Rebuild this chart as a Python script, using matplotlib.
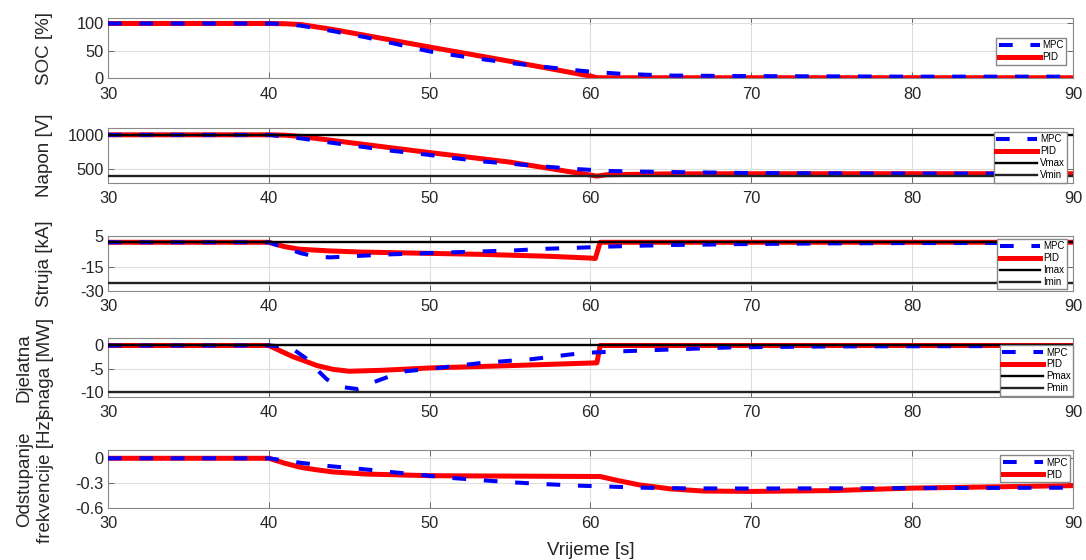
import matplotlib
matplotlib.use("Agg")
import matplotlib.pyplot as plt

plt.rcParams['font.family'] = ['Liberation Sans', 'DejaVu Sans']

# ---------------- data ----------------
# SOC [%]
t_soc_mpc = [30, 40, 41, 42, 44, 46, 48, 50, 52, 55, 58, 60, 62, 65, 70, 80, 90]
soc_mpc = [100, 100, 99, 96, 86, 75, 62, 49, 40, 28, 18, 12, 8, 5, 4, 3, 3]
t_soc_pid = [30, 40, 41, 42, 44, 50, 55, 60, 60.4, 65, 90]
soc_pid = [100, 100, 99.5, 98, 89, 57, 31, 4, 1, 1, 1]

# Napon [V]
t_v_mpc = [30, 40, 41.9, 43.8, 45.7, 47.7, 49.6, 51.6, 53.4, 55.4, 57.4, 59.3, 61.2, 63, 66, 70, 80, 90]
v_mpc = [1000, 1000, 951, 887, 828, 765, 716, 657, 608, 569, 530, 496, 470, 461, 451, 440, 432, 430]
t_v_pid = [30, 40, 41, 42, 50, 55, 60.4, 61, 65, 70, 90]
v_pid = [1000, 1000, 995, 975, 740, 600, 395, 415, 428, 430, 430]
v_max = 1000
v_min = 400

# Struja [kA]
t_i_mpc = [30, 40, 41, 42, 43, 43.8, 45.7, 47.5, 49.5, 51.4, 53.3, 55.4, 57, 58.9, 60.9, 63, 65.1, 67, 68.8, 75, 80, 90]
i_mpc = [1, 1, -2.5, -6, -8.2, -8.6, -7.6, -6.7, -6.0, -5.4, -4.8, -4.1, -3.2, -2.6, -1.8, -1.2, -0.7, -0.5, -0.2, 0.3, 0.5, 0.6]
t_i_pid = [30, 40, 40.5, 41, 41.9, 43.8, 45.7, 49.2, 53.3, 57.4, 59.9, 60.3, 60.6, 90]
i_pid = [1, 1, -0.5, -1.8, -3.4, -4.5, -5.2, -5.9, -6.7, -7.9, -9.0, -9.3, 1, 1]
i_max = 1
i_min = -25

# Djelatna snaga [MW]
t_p_mpc = [30, 40, 41.3, 42.3, 43, 43.6, 44.4, 45.5, 46.7, 47.9, 48.5, 50, 53.3, 56.4, 59.5, 61.5, 64.6, 68.8, 75, 90]
p_mpc = [0, 0, -0.3, -2.7, -5.2, -7.2, -8.8, -9.3, -7.6, -6.1, -5.5, -5.0, -3.7, -2.9, -1.6, -1.3, -0.9, -0.4, -0.2, -0.1]
t_p_pid = [30, 40, 40.5, 41, 41.5, 42, 43, 44, 45, 47, 50, 55, 60.4, 60.6, 90]
p_pid = [0, 0, -0.8, -1.6, -2.4, -3.0, -4.3, -5.1, -5.5, -5.3, -4.8, -4.3, -3.7, 0, 0]
p_max = 0
p_min = -10

# Odstupanje frekvencije [Hz]
t_f_mpc = [30, 40, 42, 43.8, 45.7, 47.7, 49.4, 51.4, 53.4, 55.3, 57.3, 59.2, 61.2, 63.2, 66, 70, 80, 90]
f_mpc = [0, 0, -0.055, -0.095, -0.128, -0.168, -0.2, -0.238, -0.267, -0.292, -0.313, -0.33, -0.342, -0.355, -0.363, -0.365, -0.36, -0.355]
t_f_pid = [30, 40, 41, 42, 43, 44, 46, 48, 50, 55, 60.6, 61.5, 63, 65, 67, 70, 75, 80, 90]
f_pid = [0, 0, -0.06, -0.11, -0.14, -0.165, -0.19, -0.2, -0.21, -0.215, -0.22, -0.26, -0.32, -0.37, -0.395, -0.4, -0.39, -0.36, -0.33]

x_ticks = [30, 40, 50, 60, 70, 80, 90]
y_labels = ["SOC [%]", "Napon [V]", "Struja [kA]", "Djelatna\nsnaga [MW]", "Odstupanje\nfrekvencije [Hz]"]

# ---------------- figure ----------------
W, H = 1086, 560
fig = plt.figure(figsize=(W / 100, H / 100), dpi=100)

left = 108 / W
width = (1073 - 108) / W
panels_px = [(18, 78.3), (128, 182.6), (236, 291), (338, 397), (450, 508)]
axes = []
for top, bot in panels_px:
    ax = fig.add_axes([left, 1 - bot / H, width, (bot - top) / H])
    axes.append(ax)

BLUE = '#0000ff'
RED = '#ff0000'
lw_red = 3.6
lw_blue = 2.9
lw_blk = 1.7
dash = (3.4, 4.4)


def style(ax, ylim, yticks, ylabel, lab_x):
    ax.set_xlim(30, 90)
    ax.set_ylim(*ylim)
    ax.set_xticks(x_ticks)
    ax.set_yticks(yticks)
    ax.set_yticklabels([str(v) for v in yticks])
    ax.grid(True, color='#dedede', linewidth=0.8)
    ax.set_axisbelow(True)
    ax.tick_params(direction='in', length=4, width=0.6, colors='#555555',
                   labelcolor='#262626', labelsize=11.8, top=True, right=True)
    ax.tick_params(axis='x', pad=6)
    ax.tick_params(axis='y', pad=3)
    for s in ax.spines.values():
        s.set_color('#888888')
        s.set_linewidth(0.8)
    ax.set_ylabel(ylabel, fontsize=13.5, color='#262626', va='center', linespacing=1.3)
    ax.yaxis.set_label_coords(lab_x, 0.5)


leg_kw = dict(fontsize=7, handlelength=4.2, handletextpad=0.3, borderpad=0.25,
              labelspacing=0.2, borderaxespad=0, framealpha=1, edgecolor='#888888',
              fancybox=False)

# Panel 1: SOC
ax = axes[0]
l_pid, = ax.plot(t_soc_pid, soc_pid, color=RED, lw=lw_red, label='PID', zorder=3)
l_mpc, = ax.plot(t_soc_mpc, soc_mpc, color=BLUE, lw=lw_blue, dashes=dash, label='MPC', zorder=4)
style(ax, (0, 110), [0, 50, 100], y_labels[0], -0.066)
ax.legend([l_mpc, l_pid], ['MPC', 'PID'], loc='upper right', bbox_to_anchor=(0.993, 0.67), **leg_kw)

# Panel 2: Napon
ax = axes[1]
l_pid, = ax.plot(t_v_pid, v_pid, color=RED, lw=lw_red, zorder=3)
l_mpc, = ax.plot(t_v_mpc, v_mpc, color=BLUE, lw=lw_blue, dashes=dash, zorder=4)
l_max = ax.axhline(v_max, color='black', lw=lw_blk, zorder=5)
l_min = ax.axhline(v_min, color='#222222', lw=lw_blk, zorder=5)
style(ax, (300, 1100), [500, 1000], y_labels[1], -0.066)
ax.legend([l_mpc, l_pid, l_max, l_min], ['MPC', 'PID', 'Vmax', 'Vmin'],
          loc='upper right', bbox_to_anchor=(0.994, 0.93), **leg_kw)

# Panel 3: Struja
ax = axes[2]
l_pid, = ax.plot(t_i_pid, i_pid, color=RED, lw=lw_red, zorder=3)
l_mpc, = ax.plot(t_i_mpc, i_mpc, color=BLUE, lw=lw_blue, dashes=dash, zorder=4)
l_max = ax.axhline(i_max, color='black', lw=lw_blk, zorder=5)
l_min = ax.axhline(i_min, color='#222222', lw=lw_blk, zorder=5)
style(ax, (-30, 5), [-30, -15, 5], y_labels[2], -0.066)
ax.legend([l_mpc, l_pid, l_max, l_min], ['MPC', 'PID', 'Imax', 'Imin'],
          loc='upper right', bbox_to_anchor=(0.994, 0.95), **leg_kw)

# Panel 4: Djelatna snaga
ax = axes[3]
l_pid, = ax.plot(t_p_pid, p_pid, color=RED, lw=lw_red, zorder=3)
l_mpc, = ax.plot(t_p_mpc, p_mpc, color=BLUE, lw=lw_blue, dashes=dash, zorder=4)
l_max = ax.axhline(p_max, color='black', lw=lw_blk, zorder=5)
l_min = ax.axhline(p_min, color='#222222', lw=lw_blk, zorder=5)
style(ax, (-11, 1.6), [-10, -5, 0], y_labels[3], -0.076)
ax.legend([l_mpc, l_pid, l_max, l_min], ['MPC', 'PID', 'Pmax', 'Pmin'],
          loc='upper right', bbox_to_anchor=(1.0, 0.88), **leg_kw)

# Panel 5: Frekvencija
ax = axes[4]
l_pid, = ax.plot(t_f_pid, f_pid, color=RED, lw=lw_red, zorder=3)
l_mpc, = ax.plot(t_f_mpc, f_mpc, color=BLUE, lw=lw_blue, dashes=dash, zorder=4)
style(ax, (-0.6, 0.1), [-0.6, -0.3, 0], y_labels[4], -0.076)
ax.set_yticklabels(['-0.6', '-0.3', '0'])
ax.legend([l_mpc, l_pid], ['MPC', 'PID'], loc='upper right', bbox_to_anchor=(0.997, 0.91), **leg_kw)
ax.set_xlabel('Vrijeme [s]', fontsize=13.5, color='#262626', labelpad=8)

fig.savefig('out.png', dpi=100)
